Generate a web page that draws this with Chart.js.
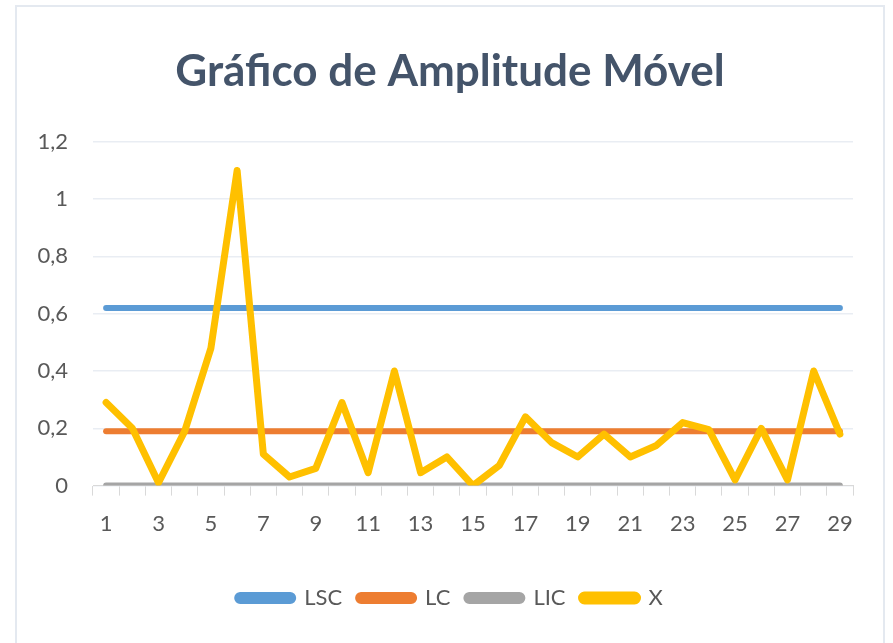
<!DOCTYPE html>
<html>
<head>
<meta charset="utf-8">
<script src="https://cdn.jsdelivr.net/npm/chart.js@4.4.1/dist/chart.umd.min.js"></script>
<style>
  html, body { margin: 0; padding: 0; background: #fff; }
  #wrap { position: relative; width: 893px; height: 643px; }
  #frame { position: absolute; left: 15px; top: 5px; width: 870px; height: 640px; border: 2px solid #E4E9F0; box-sizing: border-box; border-bottom: none; }
  canvas { position: absolute; left: 0; top: 0; }
</style>
</head>
<body>
<div id="wrap">
  <div id="frame"></div>
  <canvas id="mrChart" width="893" height="643"></canvas>
</div>
<script>
// categories and values
const samples = ['1','2','3','4','5','6','7','8','9','10','11','12','13','14','15','16','17','18','19','20','21','22','23','24','25','26','27','28','29'];
const movingRange = [0.29, 0.20, 0.01, 0.19, 0.48, 1.10, 0.11, 0.03, 0.06, 0.29, 0.045, 0.40, 0.045, 0.10, 0.0, 0.07, 0.24, 0.15, 0.10, 0.18, 0.10, 0.14, 0.22, 0.195, 0.02, 0.20, 0.02, 0.40, 0.18];
const lscValue = 0.62;
const lcValue = 0.19;
const licValue = 0;
const yTickLabels = ['0', '0,2', '0,4', '0,6', '0,8', '1', '1,2'];

const lsc = samples.map(() => lscValue);
const lc = samples.map(() => lcValue);
const lic = samples.map(() => licValue);

const lineStyle = { pointRadius: 0, pointHoverRadius: 0, tension: 0, borderCapStyle: 'round', borderJoinStyle: 'round', fill: false };

const ctx = document.getElementById('mrChart').getContext('2d');
const mrChart = new Chart(ctx, {
  type: 'line',
  data: {
    labels: samples,
    datasets: [
      { label: 'LSC', data: lsc, borderColor: '#5B9BD5', backgroundColor: '#5B9BD5', borderWidth: 6, order: 3, ...lineStyle },
      { label: 'LC', data: lc, borderColor: '#ED7D31', backgroundColor: '#ED7D31', borderWidth: 6, order: 2, ...lineStyle },
      { label: 'LIC', data: lic, borderColor: '#A5A5A5', backgroundColor: '#A5A5A5', borderWidth: 6, order: 1, ...lineStyle },
      { label: 'X', data: movingRange, borderColor: '#FFC000', backgroundColor: '#FFC000', borderWidth: 7, order: 0, ...lineStyle }
    ]
  },
  options: {
    responsive: false,
    animation: false,
    layout: { padding: { left: 38, right: 31, top: 0, bottom: 24 } },
    plugins: {
      title: {
        display: true,
        text: 'Gráfico de Amplitude Móvel',
        color: '#44546A',
        font: { family: 'Lato', size: 44, weight: 'bold' },
        padding: { top: 45, bottom: 44 }
      },
      legend: {
        position: 'bottom',
        labels: {
          color: '#595959',
          font: { family: 'Lato', size: 22 },
          boxWidth: 56,
          boxHeight: 6,
          useBorderRadius: true,
          borderRadius: 3,
          padding: 16,
          sort: (a, b) => a.datasetIndex - b.datasetIndex
        }
      },
      tooltip: { enabled: false }
    },
    scales: {
      x: {
        offset: true,
        grid: { offset: true, drawOnChartArea: false, drawTicks: true, tickLength: 10, color: '#D9D9D9' },
        border: { color: '#D9D9D9', width: 1 },
        ticks: {
          color: '#595959',
          font: { family: 'Lato', size: 22 },
          padding: 15,
          autoSkip: false,
          maxRotation: 0,
          callback: (value, index) => index % 2 === 0 ? samples[index] : ''
        },
        afterFit: (scale) => { scale.height += 19; }
      },
      y: {
        min: 0,
        max: 1.2,
        grid: { color: '#E9EDF3', lineWidth: 1.5, drawTicks: false },
        border: { display: false },
        ticks: {
          stepSize: 0.2,
          color: '#595959',
          font: { family: 'Lato', size: 22 },
          padding: 25,
          callback: (value, index) => yTickLabels[index]
        },
        afterFit: (scale) => { scale.width = 55; }
      },
      yRight: {
        position: 'right',
        min: 0,
        max: 1.2,
        grid: { display: false },
        border: { display: false },
        ticks: { display: false },
        afterFit: (scale) => { scale.width = 9; }
      }
    }
  }
});
</script>
</body>
</html>
